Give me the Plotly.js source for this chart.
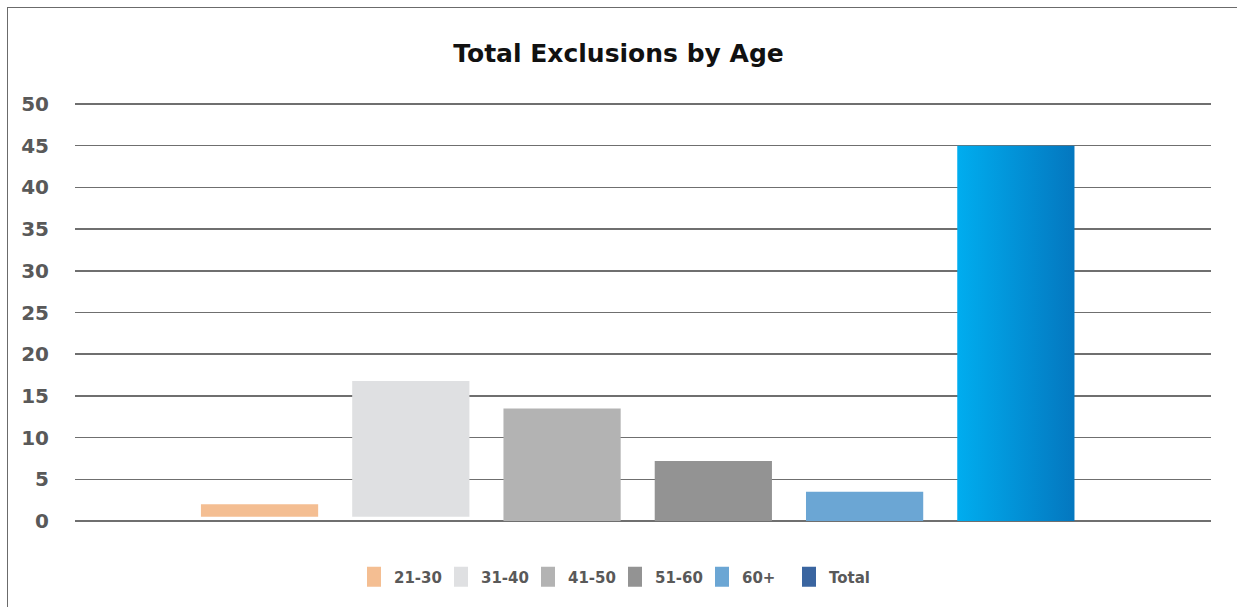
<!DOCTYPE html>
<html>
<head>
<meta charset="utf-8">
<script src="https://cdn.plot.ly/plotly-3.0.1.min.js"></script>
<style>
  html, body { margin: 0; padding: 0; background: #fff; overflow: hidden; }
  #wrap { position: relative; width: 1237px; height: 607px; }
  #chart { width: 1237px; height: 607px; }
  #frame {
    position: absolute; left: 7px; top: 7px; width: 2000px; height: 2000px;
    border-left: 1.5px solid #6b6b6b; border-top: 1.5px solid #6b6b6b;
    pointer-events: none;
  }
</style>
</head>
<body>
<div id="wrap">
  <div id="chart"></div>
  <div id="frame"></div>
</div>
<script>
// Age bands and their exclusion counts (top of each bar)
const ageGroups = ['21-30', '31-40', '41-50', '51-60', '60+', 'Total'];
const exclusions = [2, 16.8, 13.5, 7.2, 3.5, 45];
// Bar bottoms: the first two bands sit slightly above the axis
const barBases = [0.5, 0.5, 0, 0, 0, 0];
const barColors = ['#F4BE92', '#DFE0E2', '#B3B3B3', '#939393', '#6BA6D4', '#3A65A0'];
const yTicks = [0, 5, 10, 15, 20, 25, 30, 35, 40, 45, 50];

const fontFamily = '"DejaVu Sans", "Open Sans", sans-serif';

const traces = ageGroups.map((g, i) => ({
  type: 'bar',
  name: g,
  x: [g],
  y: [exclusions[i] - barBases[i]],
  base: [barBases[i]],
  width: 0.775,
  marker: { color: barColors[i], line: { width: 0 } },
  hoverinfo: 'x+y'
}));

const layout = {
  width: 1237,
  height: 607,
  paper_bgcolor: '#ffffff',
  plot_bgcolor: '#ffffff',
  margin: { l: 75, r: 26, t: 99, b: 86 },
  barmode: 'overlay',
  showlegend: true,
  title: {
    text: 'Total Exclusions by Age',
    font: { family: fontFamily, size: 25, color: '#111111', weight: 700 },
    x: 0.5, xref: 'container', xanchor: 'center',
    y: 1 - 53 / 607, yref: 'container', yanchor: 'middle'
  },
  xaxis: {
    type: 'category',
    categoryorder: 'array',
    categoryarray: ageGroups,
    range: [-1.22, 6.29],
    showticklabels: false,
    showgrid: false,
    zeroline: false,
    showline: false,
    ticks: ''
  },
  yaxis: {
    range: [0, 50.6],
    tickvals: yTicks,
    ticktext: yTicks.map(String),
    showgrid: true,
    gridcolor: '#6f6f6f',
    gridwidth: 1.5,
    zeroline: true,
    zerolinecolor: '#6f6f6f',
    zerolinewidth: 1.5,
    showline: false,
    ticks: '',
    ticklabelstandoff: 25,
    tickfont: { family: fontFamily, size: 20, color: '#595959', weight: 700 }
  },
  legend: {
    orientation: 'h',
    xref: 'container', x: 615 / 1237, xanchor: 'center',
    yref: 'container', y: 1 - 577 / 607, yanchor: 'middle',
    font: { family: fontFamily, size: 15, color: '#595959', weight: 700 },
    itemwidth: 30,
    entrywidth: 42,
    entrywidthmode: 'pixels',
    traceorder: 'normal',
    bgcolor: 'rgba(0,0,0,0)'
  }
};

Plotly.newPlot('chart', traces, layout, { displayModeBar: false, staticPlot: true }).then(gd => {
  const svg = gd.querySelector('svg.main-svg');
  const ns = 'http://www.w3.org/2000/svg';

  // Horizontal cyan-to-blue fill on the Total column
  let defs = svg.querySelector('defs');
  if (!defs) { defs = document.createElementNS(ns, 'defs'); svg.insertBefore(defs, svg.firstChild); }
  const grad = document.createElementNS(ns, 'linearGradient');
  grad.setAttribute('id', 'totalFill');
  grad.setAttribute('x1', '0'); grad.setAttribute('y1', '0');
  grad.setAttribute('x2', '1'); grad.setAttribute('y2', '0');
  [['0%', '#00ADEF'], ['100%', '#0477BF']].forEach(([o, c]) => {
    const s = document.createElementNS(ns, 'stop');
    s.setAttribute('offset', o);
    s.setAttribute('stop-color', c);
    grad.appendChild(s);
  });
  defs.appendChild(grad);
  const barTraces = gd.querySelectorAll('.barlayer .trace');
  const totalTrace = barTraces[barTraces.length - 1];
  if (totalTrace) {
    totalTrace.querySelectorAll('path').forEach(p => { p.style.fill = 'url(#totalFill)'; });
  }

  // Tall rectangular legend swatches
  gd.querySelectorAll('.legend .legendpoints path').forEach(p => {
    p.setAttribute('d', 'M-7,-10h14v20h-14z');
  });
});
</script>
</body>
</html>
